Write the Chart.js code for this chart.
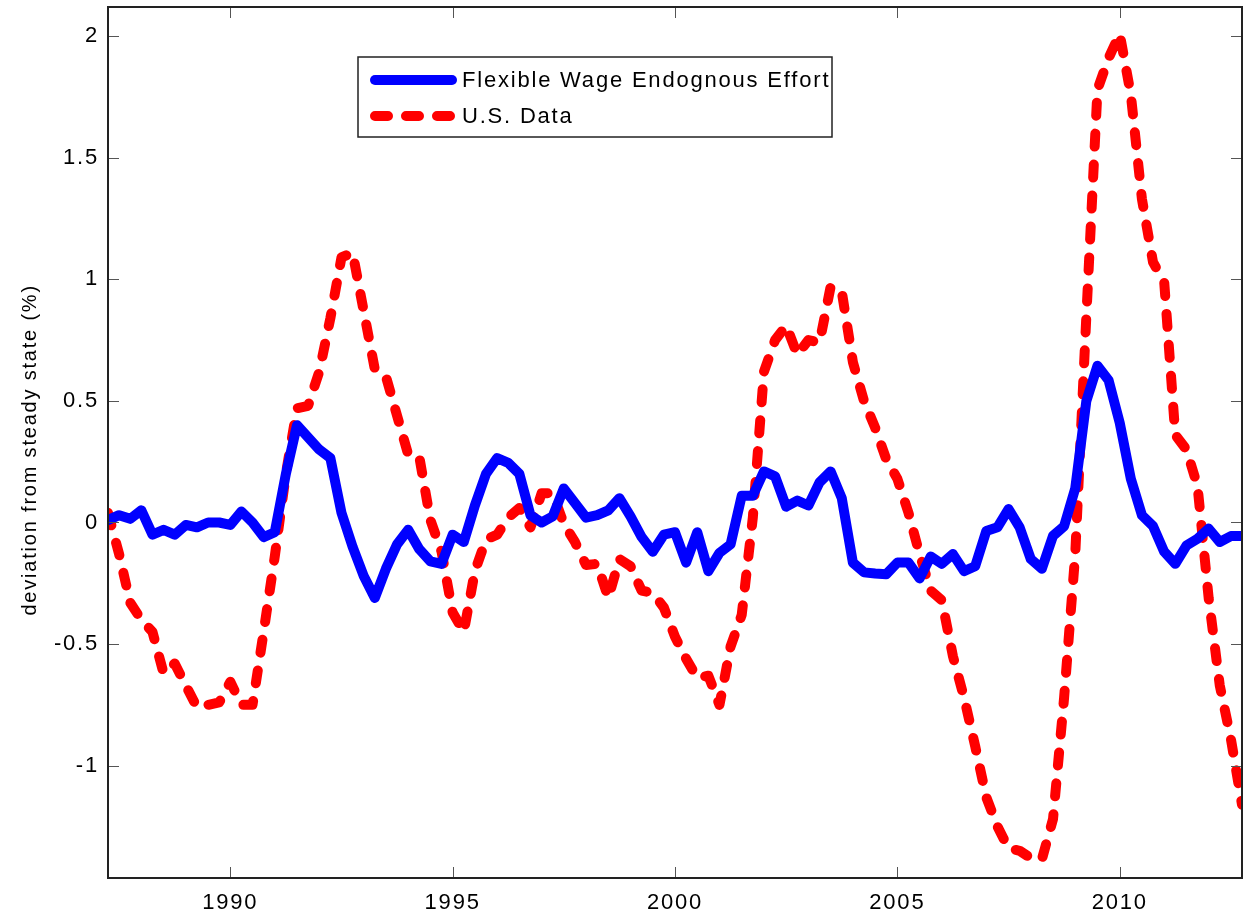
<!DOCTYPE html>
<html>
<head>
<meta charset="utf-8">
<script src="https://cdn.jsdelivr.net/npm/chart.js@4.4.1/dist/chart.umd.min.js"></script>
<style>
  html, body { margin: 0; padding: 0; background: #fff; }
  #chart { display: block; }
</style>
</head>
<body>
<canvas id="chart" width="1243" height="919"></canvas>
<script>
// quarterly series, first observation 1987Q2 (plotted at 1987.25)
const firstQuarter = 1987.25;
const yearTicks = [1990, 1995, 2000, 2005, 2010];
const valueTicks = [-1, -0.5, 0, 0.5, 1, 1.5, 2];
const seriesNames = ["Flexible Wage Endognous Effort", "U.S. Data"];

// model: flexible wage with endogenous effort
const flexibleWage = [
  0.01, 0.03, 0.015, 0.05, -0.05, -0.03, -0.05, -0.01, -0.02, 0.0,
  0.0, -0.01, 0.045, 0.0, -0.06, -0.04, 0.2, 0.40, 0.35, 0.30,
  0.265, 0.04, -0.10, -0.22, -0.31, -0.19, -0.09, -0.03, -0.11, -0.16,
  -0.17, -0.05, -0.08, 0.07, 0.2, 0.265, 0.245, 0.20, 0.03, 0.0,
  0.025, 0.14, 0.08, 0.02, 0.03, 0.05, 0.10, 0.025, -0.06, -0.12,
  -0.05, -0.04, -0.165, -0.04, -0.20, -0.125, -0.09, 0.11, 0.11, 0.21,
  0.19, 0.065, 0.09, 0.07, 0.165, 0.21, 0.10, -0.165, -0.205, -0.21,
  -0.213, -0.165, -0.165, -0.23, -0.14, -0.17, -0.13, -0.20, -0.18, -0.035,
  -0.02, 0.055, -0.02, -0.15, -0.19, -0.055, -0.015, 0.14, 0.50, 0.645,
  0.585, 0.41, 0.18, 0.03, -0.015, -0.12, -0.17, -0.095, -0.067, -0.025,
  -0.08, -0.056, -0.056
];

// U.S. data
const usData = [
  0.04, -0.13, -0.33, -0.40, -0.45, -0.62, -0.58, -0.67, -0.76, -0.75,
  -0.74, -0.655, -0.75, -0.75, -0.45, -0.14, 0.2, 0.47, 0.48, 0.62,
  0.84, 1.09, 1.11, 0.87, 0.63, 0.60, 0.44, 0.28, 0.27, 0.01,
  -0.12, -0.37, -0.45, -0.20, -0.07, -0.05, 0.02, 0.06, -0.02, 0.12,
  0.12, -0.005, -0.08, -0.175, -0.17, -0.31, -0.15, -0.18, -0.28, -0.29,
  -0.35, -0.47, -0.56, -0.64, -0.63, -0.75, -0.51, -0.38, 0.02, 0.62,
  0.75, 0.81, 0.69, 0.75, 0.74, 0.97, 0.95, 0.66, 0.50, 0.39,
  0.26, 0.18, 0.04, -0.13, -0.28, -0.32, -0.55, -0.72, -0.92, -1.13,
  -1.25, -1.34, -1.35, -1.38, -1.385, -1.22, -0.72, -0.13, 0.85, 1.78,
  1.91, 2.01, 1.76, 1.33, 1.07, 0.99, 0.36, 0.30, 0.15, -0.31,
  -0.67, -0.89, -1.16
];

const quarters = flexibleWage.map((v, i) => firstQuarter + i * 0.25);

const fontFamily = "'Liberation Sans', Arial, Helvetica, sans-serif";
const blue = "#0000ff";
const red = "#ff0000";

// MATLAB-style text is a bit spaced out
const spacing = {
  id: "spacing",
  beforeDraw(chart) {
    chart.ctx.letterSpacing = "1.8px";
  }
};

// box round the axes with the small inward ticks
const axesBox = {
  id: "axesBox",
  afterDatasetsDraw(chart) {
    const { ctx, chartArea: a, scales } = chart;
    ctx.save();
    ctx.strokeStyle = "#555";
    ctx.lineWidth = 1;
    scales.x.ticks.forEach((t) => {
      const px = Math.round(scales.x.getPixelForValue(t.value)) + 0.5;
      ctx.beginPath();
      ctx.moveTo(px, a.bottom); ctx.lineTo(px, a.bottom - 11);
      ctx.moveTo(px, a.top); ctx.lineTo(px, a.top + 11);
      ctx.stroke();
    });
    scales.y.ticks.forEach((t) => {
      const py = Math.round(scales.y.getPixelForValue(t.value)) + 0.5;
      ctx.beginPath();
      ctx.moveTo(a.left, py); ctx.lineTo(a.left + 11, py);
      ctx.moveTo(a.right, py); ctx.lineTo(a.right - 11, py);
      ctx.stroke();
    });
    ctx.strokeStyle = "#222";
    ctx.lineWidth = 2;
    ctx.strokeRect(a.left, a.top, a.width, a.height);
    ctx.restore();
  }
};

// boxed legend inside the axes, top left of centre
const boxLegend = {
  id: "boxLegend",
  afterDraw(chart) {
    const ctx = chart.ctx;
    const bx = 358, by = 57, bw = 474, bh = 80;
    ctx.save();
    ctx.fillStyle = "#fff";
    ctx.fillRect(bx, by, bw, bh);
    ctx.strokeStyle = "#222";
    ctx.lineWidth = 1.5;
    ctx.strokeRect(bx, by, bw, bh);
    const rows = [80, 116];
    chart.data.datasets.forEach((ds, i) => {
      ctx.strokeStyle = ds.borderColor;
      ctx.lineWidth = ds.borderWidth;
      ctx.lineCap = "round";
      ctx.setLineDash(ds.borderDash || []);
      ctx.beginPath();
      ctx.moveTo(375, rows[i]);
      ctx.lineTo(452, rows[i]);
      ctx.stroke();
      ctx.setLineDash([]);
      ctx.fillStyle = "#000";
      ctx.font = "22px " + fontFamily;
      ctx.letterSpacing = "1.8px";
      ctx.textBaseline = "middle";
      ctx.textAlign = "left";
      ctx.fillText(ds.label, 462, rows[i] + 1);
    });
    ctx.restore();
  }
};

// keep the axes box where the figure has it
function noLabelPadding(scale) {
  scale.paddingTop = 0;
  scale.paddingBottom = 0;
  scale.paddingLeft = 0;
  scale.paddingRight = 0;
}

new Chart(document.getElementById("chart"), {
  type: "line",
  data: {
    datasets: [
      {
        label: seriesNames[0],
        data: quarters.map((q, i) => ({ x: q, y: flexibleWage[i] })),
        borderColor: blue,
        borderWidth: 10,
        borderJoinStyle: "round",
        borderCapStyle: "round",
        pointRadius: 0,
        tension: 0
      },
      {
        label: seriesNames[1],
        data: quarters.map((q, i) => ({ x: q, y: usData[i] })),
        borderColor: red,
        borderWidth: 10,
        borderDash: [13, 18],
        borderJoinStyle: "round",
        borderCapStyle: "round",
        pointRadius: 0,
        tension: 0
      }
    ]
  },
  options: {
    responsive: false,
    animation: false,
    devicePixelRatio: 1,
    layout: { padding: { top: 7, right: 1, bottom: 0, left: 0 } },
    plugins: {
      legend: { display: false },
      tooltip: { enabled: false }
    },
    scales: {
      x: {
        type: "linear",
        min: 1987.25,
        max: 2012.75,
        grid: { display: false, drawTicks: false },
        border: { display: false },
        afterBuildTicks: (scale) => {
          scale.ticks = yearTicks.map((v) => ({ value: v }));
        },
        afterFit: (scale) => { scale.height = 41; noLabelPadding(scale); },
        ticks: {
          color: "#000",
          padding: 12,
          maxRotation: 0,
          font: { family: fontFamily, size: 22 },
          callback: (v) => String(v)
        }
      },
      y: {
        min: -1.462,
        max: 2.12,
        grid: { display: false, drawTicks: false },
        border: { display: false },
        afterBuildTicks: (scale) => {
          scale.ticks = valueTicks.map((v) => ({ value: v }));
        },
        afterFit: (scale) => { scale.width = 108; noLabelPadding(scale); },
        ticks: {
          color: "#000",
          padding: 9,
          font: { family: fontFamily, size: 22 },
          callback: (v) => String(v)
        },
        title: {
          display: true,
          text: "deviation from steady state (%)  ",
          color: "#000",
          padding: { top: 18, bottom: 0 },
          font: { family: fontFamily, size: 20 }
        }
      }
    }
  },
  plugins: [spacing, axesBox, boxLegend]
});
</script>
</body>
</html>
